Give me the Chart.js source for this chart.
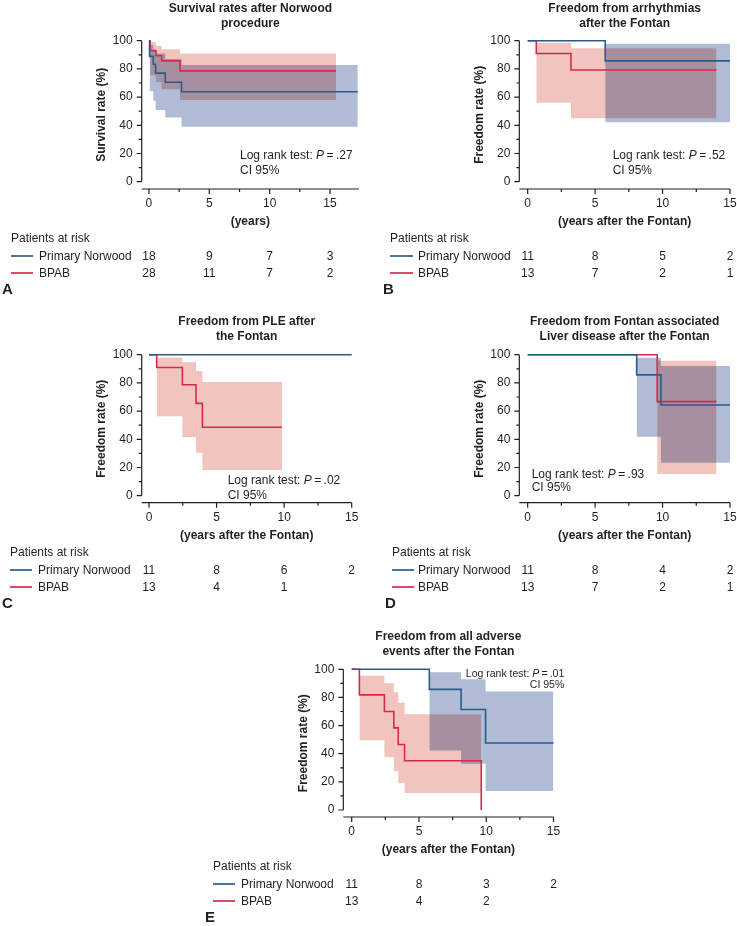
<!DOCTYPE html>
<html><head><meta charset="utf-8">
<script src="https://cdn.jsdelivr.net/npm/chart.js@4/dist/chart.umd.min.js"></script>
<style>
html,body{margin:0;padding:0;background:#fff;width:737px;height:926px;overflow:hidden;position:relative;font-family:"Liberation Sans",Arial,sans-serif;color:#231f20}
canvas{position:absolute}
.t{position:absolute;white-space:nowrap;font-size:12px;line-height:14px}
.ln{position:absolute;height:2px}
</style></head><body>
<script>
// ===== DATA =====
const xTicks = [0, 5, 10, 15];
const xMinor = [2.5, 7.5, 12.5];
const yTicks = [0, 20, 40, 60, 80, 100];
const yMinor = [10, 30, 50, 70, 90];
const riskTicks = [0, 5, 10, 15];
const groups = ["Primary Norwood", "BPAB"];

// Panel A — survival after Norwood (years)
const aBlueT = [0, 0.05, 0.36, 0.55, 1.35, 2.7, 17.3];
const aBlueS = [100, 88.9, 83.3, 77, 70.5, 63.8, 63.8];
const aBlueBandT = [0.05, 0.36, 0.55, 1.35, 2.7, 17.3];
const aBlueHi = [97, 94, 91, 87, 82.8, 82.8];
const aBlueLo = [64.3, 57.4, 50.8, 45.6, 39, 39];
const aRedT = [0, 0.1, 0.58, 1.05, 2.57, 15.5];
const aRedS = [100, 92.9, 89.3, 85.7, 78.6, 78.6];
const aRedBandT = [0.1, 0.58, 1.05, 2.57, 15.5];
const aRedHi = [99, 96.5, 94, 91, 91];
const aRedLo = [75.5, 70.5, 65.5, 58, 58];
const aRiskPN = [18, 9, 7, 3];
const aRiskBPAB = [28, 11, 7, 2];

// Panel B — freedom from arrhythmias
const bBlueT = [0, 5.75, 15];
const bBlueS = [100, 85.7, 85.7];
const bBlueBandT = [5.75, 15];
const bBlueHi = [97.9, 97.9];
const bBlueLo = [42.1, 42.1];
const bRedT = [0, 0.64, 3.21, 14.0];
const bRedS = [100, 90.9, 79.2, 79.2];
const bRedBandT = [0.64, 3.21, 14.0];
const bRedHi = [98.6, 94.6, 94.6];
const bRedLo = [56, 45, 45];
const bRiskPN = [11, 8, 5, 2];
const bRiskBPAB = [13, 7, 2, 1];

// Panel C — freedom from PLE
const cBlueT = [0, 15];
const cBlueS = [100, 100];
const cRedT = [0, 0.57, 2.47, 3.48, 3.95, 9.84];
const cRedS = [100, 90.9, 78.7, 65.5, 48.5, 48.5];
const cRedBandT = [0.57, 2.47, 3.48, 3.95, 9.84];
const cRedHi = [98.1, 94.6, 88.4, 80.6, 80.6];
const cRedLo = [56.3, 41.6, 30.5, 18.2, 18.2];
const cRiskPN = [11, 8, 6, 2];
const cRiskBPAB = [13, 4, 1];

// Panel D — freedom from Fontan associated liver disease
const dBlueT = [0, 8.08, 9.88, 15];
const dBlueS = [100, 85.7, 64.3, 64.3];
const dBlueBandT = [8.08, 9.88, 15];
const dBlueHi = [97.9, 92, 92];
const dBlueLo = [41.8, 23.4, 23.4];
const dRedT = [0, 9.6, 14.0];
const dRedS = [100, 66.7, 66.7];
const dRedBandT = [9.6, 14.0];
const dRedHi = [95.7, 95.7];
const dRedLo = [15.4, 15.4];
const dRiskPN = [11, 8, 4, 2];
const dRiskBPAB = [13, 7, 2, 1];

// Panel E — freedom from all adverse events
const eBlueT = [0, 5.77, 8.13, 9.95, 15];
const eBlueS = [100, 85.7, 71.4, 47.6, 47.6];
const eBlueBandT = [5.77, 8.13, 9.95, 15];
const eBlueHi = [97.9, 92.9, 84.2, 84.2];
const eBlueLo = [42.3, 32.8, 13.5, 13.5];
const eRedT = [0, 0.57, 2.43, 3.13, 3.46, 3.93, 9.63];
const eRedS = [100, 81.8, 70, 58.4, 46.6, 35, 0];
const eRedBandT = [0.57, 2.43, 3.13, 3.46, 3.93, 9.63];
const eRedHi = [95.5, 90.1, 83.7, 76.3, 68, 68];
const eRedLo = [49.6, 37.5, 27.7, 19.2, 12.1, 12.1];
const eRiskPN = [11, 8, 3, 2];
const eRiskBPAB = [13, 4, 2];

// ===== STYLE / LAYOUT =====
const TXT = '#231f20';
const BLUE = '#2c5b8a', RED = '#d7294f';
const BLUE_BAND = '#b0bbd5', RED_BAND = '#f1c4c0';
const FONT = '"Liberation Sans", Arial, sans-serif';
Chart.defaults.font.family = FONT;
Chart.defaults.color = TXT;

const panels = [
  {id:'A', box:{x:0,y:-5,w:368,h:240}, area:{L:141.7,R:359,T:40.7,B:189}, xr:[-0.6,17.4], yr:[-5.18,100],
   title:["Survival rates after Norwood","procedure"], titleY:8.2, yTitle:"Survival rate (%)", yTitleX:101.7, xTitle:"(years)",
   blue:{t:aBlueT,s:aBlueS,bt:aBlueBandT,hi:aBlueHi,lo:aBlueLo}, red:{t:aRedT,s:aRedS,bt:aRedBandT,hi:aRedHi,lo:aRedLo},
   risk:[aRiskPN,aRiskBPAB], tbl:{hx:11,l1:11,l2:33,lab:39}, letterX:2,
   note:{x:240,y1:155,y2:170,p:'.27',size:12,align:'left'}},
  {id:'B', box:{x:368,y:-5,w:369,h:240}, area:{L:519.3,R:730,T:40.7,B:189}, xr:[-0.62,15], yr:[-5.18,100],
   title:["Freedom from arrhythmias","after the Fontan"], titleY:8.2, yTitle:"Freedom rate (%)", yTitleX:480, xTitle:"(years after the Fontan)",
   blue:{t:bBlueT,s:bBlueS,bt:bBlueBandT,hi:bBlueHi,lo:bBlueLo}, red:{t:bRedT,s:bRedS,bt:bRedBandT,hi:bRedHi,lo:bRedLo},
   risk:[bRiskPN,bRiskBPAB], tbl:{hx:390,l1:390,l2:413,lab:418}, letterX:383,
   note:{x:612.7,y1:155,y2:170,p:'.52',size:12,align:'left'}},
  {id:'C', box:{x:0,y:305,w:368,h:240}, area:{L:141.7,R:351.7,T:354.7,B:502.7}, xr:[-0.54,15], yr:[-4.96,100],
   title:["Freedom from PLE after","the Fontan"], titleY:321.7, yTitle:"Freedom rate (%)", yTitleX:101.7, xTitle:"(years after the Fontan)",
   blue:{t:cBlueT,s:cBlueS}, red:{t:cRedT,s:cRedS,bt:cRedBandT,hi:cRedHi,lo:cRedLo},
   risk:[cRiskPN,cRiskBPAB], tbl:{hx:10,l1:10,l2:32,lab:38}, letterX:2,
   note:{x:227.7,y1:480.7,y2:495.3,p:'.02',size:12,align:'left'}},
  {id:'D', box:{x:368,y:305,w:369,h:240}, area:{L:519.3,R:730,T:354.7,B:502.7}, xr:[-0.62,15], yr:[-4.96,100],
   title:["Freedom from Fontan associated","Liver disease after the Fontan"], titleY:321.7, yTitle:"Freedom rate (%)", yTitleX:480, xTitle:"(years after the Fontan)",
   blue:{t:dBlueT,s:dBlueS,bt:dBlueBandT,hi:dBlueHi,lo:dBlueLo}, red:{t:dRedT,s:dRedS,bt:dRedBandT,hi:dRedHi,lo:dRedLo},
   risk:[dRiskPN,dRiskBPAB], tbl:{hx:392,l1:392,l2:414,lab:418}, letterX:385,
   note:{x:531.7,y1:474.3,y2:487.7,p:'.93',size:12,align:'left'}},
  {id:'E', box:{x:190,y:620,w:380,h:245}, area:{L:343.3,R:553.5,T:669.3,B:817}, xr:[-0.625,15], yr:[-4.975,100],
   title:["Freedom from all adverse","events after the Fontan"], titleY:636.3, yTitle:"Freedom rate (%)", yTitleX:303.3, xTitle:"(years after the Fontan)",
   blue:{t:eBlueT,s:eBlueS,bt:eBlueBandT,hi:eBlueHi,lo:eBlueLo}, red:{t:eRedT,s:eRedS,bt:eRedBandT,hi:eRedHi,lo:eRedLo},
   risk:[eRiskPN,eRiskBPAB], tbl:{hx:213,l1:213,l2:235,lab:241}, letterX:205,
   note:{x:564.3,y1:673.3,y2:684.3,p:'.01',size:10.5,align:'right'}}
];

function pts(t, v) { return t.map((x, i) => ({x: x, y: v[i]})); }

const blendPlugin = {
  id: 'blend',
  beforeDatasetsDraw(chart) { chart.ctx.globalCompositeOperation = 'multiply'; },
  beforeDatasetDraw(chart, args) { if (chart.data.datasets[args.index].isLine) chart.ctx.globalCompositeOperation = 'source-over'; },
  afterDatasetDraw(chart, args) { if (chart.data.datasets[args.index].isLine) chart.ctx.globalCompositeOperation = 'multiply'; },
  afterDatasetsDraw(chart) { chart.ctx.globalCompositeOperation = 'source-over'; }
};

const axesPlugin = {
  id: 'kmAxes',
  afterDraw(chart) {
    const {ctx, chartArea: a, scales: {x, y}} = chart;
    ctx.save();
    ctx.strokeStyle = TXT; ctx.lineWidth = 1.2;
    ctx.beginPath();
    ctx.moveTo(a.left, y.getPixelForValue(100)); ctx.lineTo(a.left, y.getPixelForValue(0));
    ctx.moveTo(a.left, a.bottom); ctx.lineTo(a.right, a.bottom);
    yTicks.concat(yMinor).forEach(v => {
      const py = y.getPixelForValue(v), len = yTicks.includes(v) ? 5 : 3;
      ctx.moveTo(a.left - len, py); ctx.lineTo(a.left, py);
    });
    xTicks.concat(xMinor).forEach(v => {
      if (v > x.max) return;
      const px = x.getPixelForValue(v), len = xTicks.includes(v) ? 5 : 3;
      ctx.moveTo(px, a.bottom); ctx.lineTo(px, a.bottom + len);
    });
    ctx.stroke();
    ctx.restore();
  }
};

function lineDs(g, color) {
  return {data: pts(g.t, g.s), borderColor: color, borderWidth: 1.6, stepped: 'before', pointRadius: 0, fill: false, order: 0, isLine: true, clip: 4};
}
function bandDs(g, color) {
  return [
    {data: pts(g.bt, g.hi), borderWidth: 0, borderColor: 'rgba(0,0,0,0)', backgroundColor: color, stepped: 'before', pointRadius: 0, fill: '+1', order: 1},
    {data: pts(g.bt, g.lo), borderWidth: 0, borderColor: 'rgba(0,0,0,0)', stepped: 'before', pointRadius: 0, fill: false, order: 1}
  ];
}

function addDiv(html, x, y, cls, style) {
  const d = document.createElement('div');
  d.className = cls || 't';
  d.innerHTML = html;
  d.style.left = x + 'px';
  d.style.top = y + 'px';
  if (style) Object.assign(d.style, style);
  document.body.appendChild(d);
  return d;
}

function build(p) {
  const c = document.createElement('canvas');
  c.width = p.box.w; c.height = p.box.h;
  c.style.left = p.box.x + 'px'; c.style.top = p.box.y + 'px';
  c.style.width = p.box.w + 'px'; c.style.height = p.box.h + 'px';
  document.body.appendChild(c);
  const padLeft = p.yTitleX - 7.2 - p.box.x;
  const yW = p.area.L - p.box.x - padLeft;
  const padTop = p.titleY - 7.5 - p.box.y;
  const tBot = p.area.T - p.box.y - padTop - 30;
  const padRight = p.box.x + p.box.w - p.area.R;
  const xH = 39.7;
  const padBottom = p.box.y + p.box.h - p.area.B - xH;

  const ds = [lineDs(p.blue, BLUE), lineDs(p.red, RED)];
  if (p.blue.bt) ds.push(...bandDs(p.blue, BLUE_BAND));
  if (p.red.bt) ds.push(...bandDs(p.red, RED_BAND));

  const chart = new Chart(c, {
    type: 'line',
    data: {datasets: ds},
    options: {
      responsive: false, animation: false, devicePixelRatio: 1,
      layout: {padding: {left: padLeft, right: padRight, top: padTop, bottom: padBottom}},
      plugins: {
        legend: {display: false}, tooltip: {enabled: false},
        title: {display: true, text: p.title, fullSize: false, color: TXT,
                font: {size: 12, weight: 'bold', lineHeight: 1.25}, padding: {top: 0, bottom: tBot}},
        filler: {propagate: false}
      },
      scales: {
        x: {type: 'linear', min: p.xr[0], max: p.xr[1],
            afterBuildTicks: s => { s.ticks = xTicks.map(v => ({value: v})); },
            afterFit: s => { s.height = xH; s.paddingLeft = 0; s.paddingRight = 0; },
            grid: {display: true, drawOnChartArea: false, drawTicks: true, tickLength: 5, tickColor: 'rgba(0,0,0,0)'},
            border: {display: false},
            ticks: {padding: 2.5, font: {size: 12}, color: TXT, maxRotation: 0, autoSkip: false},
            title: {display: true, text: p.xTitle, font: {size: 12, weight: 'bold'}, color: TXT, padding: 0}},
        y: {type: 'linear', min: p.yr[0], max: p.yr[1],
            afterBuildTicks: s => { s.ticks = yTicks.map(v => ({value: v})); },
            afterFit: s => { s.width = yW; s.paddingTop = 0; s.paddingBottom = 0; },
            grid: {display: true, drawOnChartArea: false, drawTicks: true, tickLength: 5, tickColor: 'rgba(0,0,0,0)'},
            border: {display: false},
            ticks: {padding: 4, font: {size: 12}, color: TXT, autoSkip: false},
            title: {display: true, text: p.yTitle, font: {size: 12, weight: 'bold'}, color: TXT, padding: 0}}
      }
    },
    plugins: [blendPlugin, axesPlugin]
  });

  // Log rank annotation
  const n = p.note;
  const lh = n.y2 - n.y1;
  const st = {fontSize: n.size + 'px', lineHeight: lh + 'px', textAlign: n.align};
  if (n.align === 'right') st.transform = 'translateX(-100%)';
  addDiv('Log rank test: <i>P</i>&thinsp;=&thinsp;' + n.p + '<br>CI 95%', n.x, n.y1 - lh / 2, 't', st);

  // Patients at risk table
  const ax = p.box.y + chart.chartArea.bottom;
  const xs = chart.scales.x;
  addDiv('Patients at risk', p.tbl.hx, ax + 49.3 - 7);
  const colors = [BLUE, RED];
  p.risk.forEach((row, i) => {
    const ry = ax + 67 + i * 17.3;
    addDiv('', p.tbl.l1, Math.round(ry - 1), 'ln', {width: (p.tbl.l2 - p.tbl.l1) + 'px', background: colors[i], opacity: 0.85});
    addDiv(groups[i], p.tbl.lab, ry - 7);
    row.forEach((v, j) => {
      addDiv(String(v), p.box.x + xs.getPixelForValue(riskTicks[j]), ry - 7, 't', {transform: 'translateX(-50%)'});
    });
  });
  addDiv(p.id, p.letterX, ax + 100.3 - 9, 't', {fontSize: '15px', lineHeight: '18px', fontWeight: 'bold'});
  return chart;
}

panels.forEach(build);
</script>
</body></html>
